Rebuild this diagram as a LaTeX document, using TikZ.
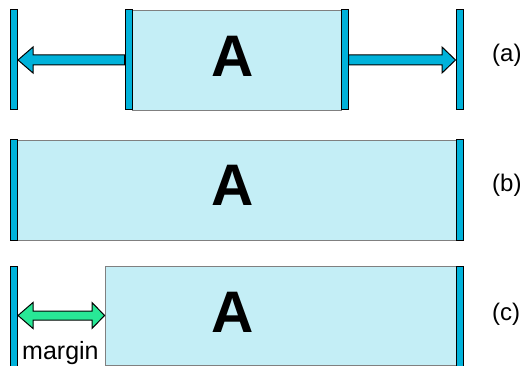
\documentclass[tikz,border=0pt]{standalone}
\usepackage{fontspec}
\setmainfont{Liberation Sans}
\usetikzlibrary{calc}
\definecolor{barc}{RGB}{0,178,218}
\definecolor{boxc}{RGB}{196,238,246}
\definecolor{boxline}{RGB}{128,128,128}
\definecolor{greenc}{RGB}{40,232,150}
\pgfdeclarelayer{background}
\pgfsetlayers{background,main}
\begin{document}
\begin{tikzpicture}[x=1pt,y=-1pt,
  bar/.style={rectangle, draw=black, line width=1pt, fill=barc, minimum width=7pt, inner sep=0pt},
  box/.style={rectangle, draw=boxline, line width=0.9pt, fill=boxc, inner sep=0pt},
  bigA/.style={inner sep=0pt, font=\fontsize{58.6}{60}\selectfont\bfseries},
  lab/.style={inner sep=0pt, anchor=base west, font=\fontsize{24}{26}\selectfont},
  fatarrow/.style={draw=black, line width=1pt, fill=barc, line join=miter},
  greenarrow/.style={draw=black, line width=1pt, fill=greenc, line join=miter}]
\useasboundingbox (0,0) rectangle (524,366);
% (a)
\node[box, minimum width=209pt, minimum height=100pt] (boxa) at (236.5,60) {};
\node[bar, minimum height=100pt] (aL1) at (14,60) {};
\node[bar, minimum height=100pt] (aL2) at (128.5,60) {};
\node[bar, minimum height=100pt] (aR1) at (344.5,60) {};
\node[bar, minimum height=100pt] (aR2) at (459.5,60) {};
\node[bigA] (Aa) at (232.5,56) {A};
\node[lab] (laba) at (492,62) {(a)};
\begin{pgfonlayer}{background}
\draw[fatarrow] ($(aL2.west)+(0,-5)$) -- (33,55) -- (33,47) -- (aL1.east) -- (33,73) -- (33,65) -- ($(aL2.west)+(0,5)$) -- cycle;
\draw[fatarrow] ($(aR1.east)+(0,-5)$) -- (442,55) -- (442,47) -- (aR2.west) -- (442,73) -- (442,65) -- ($(aR1.east)+(0,5)$) -- cycle;
\end{pgfonlayer}
% (b)
\node[box, minimum width=438.5pt, minimum height=100pt] (boxb) at (236.75,190) {};
\node[bar, minimum height=100pt] (bL) at (14,190) {};
\node[bar, minimum height=100pt] (bR) at (459.5,190) {};
\node[bigA] (Ab) at (232.5,185.5) {A};
\node[lab] (labb) at (492,191) {(b)};
% (c)
\node[box, minimum width=351pt, minimum height=99pt] (boxc) at (280.5,315.5) {};
\node[bar, minimum height=102pt] (cL) at (14,317) {};
\node[bar, minimum height=102pt] (cR) at (459.5,317) {};
\node[bigA] (Ac) at (232.5,312.5) {A};
\node[lab] (labc) at (492,320) {(c)};
\coordinate (mL) at (cL.east |- boxc.west);
\draw[greenarrow] (mL) -- (33,302.5) -- (33,311) -- (92,311) -- (92,302.5) -- (boxc.west) -- (92,328.5) -- (92,320) -- (33,320) -- (33,328.5) -- cycle;
\node[lab, font=\fontsize{25}{27}\selectfont] (marg) at (22,359) {margin};
\end{tikzpicture}
\end{document}
